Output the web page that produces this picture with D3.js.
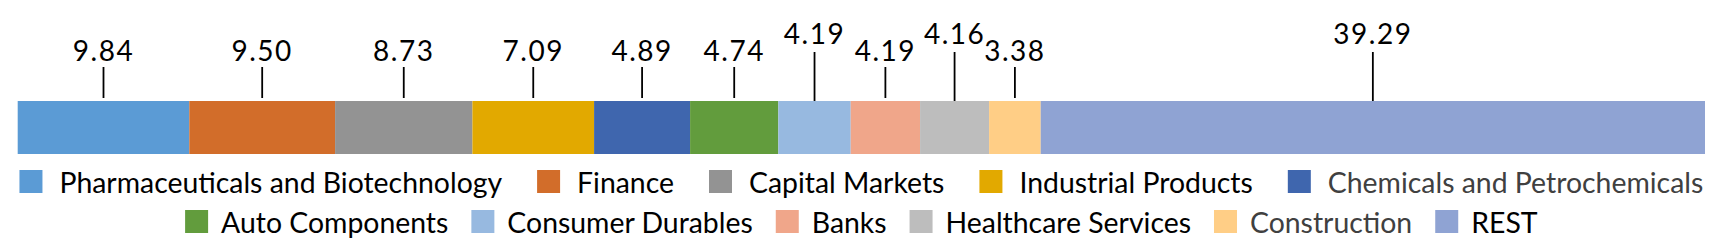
<!DOCTYPE html>
<html>
<head>
<meta charset="utf-8">
<script src="https://cdn.jsdelivr.net/npm/d3@7"></script>
<style>
  html, body { margin: 0; padding: 0; background: #ffffff; }
  svg { display: block; }
  text { font-family: Lato, "Open Sans", sans-serif; }
</style>
</head>
<body>
<svg id="chart" width="1716" height="243"></svg>
<script>
// ---- data ----
const categories = [
  "Pharmaceuticals and Biotechnology", "Finance", "Capital Markets",
  "Industrial Products", "Chemicals and Petrochemicals", "Auto Components",
  "Consumer Durables", "Banks", "Healthcare Services", "Construction", "REST"
];
// value labels printed above the bar
const labelValues = [9.84, 9.50, 8.73, 7.09, 4.89, 4.74, 4.19, 4.19, 4.16, 3.38, 39.29];
// segment shares (%) as drawn in the bar
const segmentShares = [10.17, 8.64, 8.14, 7.21, 5.69, 5.23, 4.29, 4.11, 4.09, 3.06, 39.37];
const colors = ["#5B9BD5", "#D26D2A", "#939393", "#E2A900", "#3F66AE", "#629C3D",
                "#97B9E0", "#F0A68A", "#BDBDBD", "#FFCE86", "#8FA3D3"];
const labelRaised = [0, 0, 0, 0, 0, 0, 1, 0, 1, 0, 1];
const legendTextColors = ["#000", "#000", "#000", "#000", "#404040", "#000",
                          "#000", "#000", "#000", "#404040", "#000"];
const legendRowCounts = [5, 6];

// ---- layout ----
const W = 1716, H = 243;
const barLeft = 17.7, barRight = 1705, barTop = 101, barBottom = 154;
const svg = d3.select("#chart");

const total = d3.sum(segmentShares);
const x = d3.scaleLinear().domain([0, total]).range([barLeft, barRight]);

const cum = d3.cumsum(segmentShares);
const segs = segmentShares.map((v, i) => ({
  i, v, x0: cum[i] - v, x1: cum[i], label: labelValues[i], raised: labelRaised[i]
}));

// bar segments
svg.append("g").selectAll("rect").data(segs).join("rect")
  .attr("x", d => x(d.x0))
  .attr("y", barTop)
  .attr("width", d => x(d.x1) - x(d.x0))
  .attr("height", barBottom - barTop)
  .attr("fill", d => colors[d.i]);

// leader ticks
svg.append("g").selectAll("line").data(segs).join("line")
  .attr("x1", d => x((d.x0 + d.x1) / 2))
  .attr("x2", d => x((d.x0 + d.x1) / 2))
  .attr("y1", d => d.raised ? 52 : 67)
  .attr("y2", d => d.raised ? 101 : 98)
  .attr("stroke", "#000")
  .attr("stroke-width", 1.8);

// value labels
svg.append("g").selectAll("text").data(segs).join("text")
  .attr("x", d => x((d.x0 + d.x1) / 2))
  .attr("y", d => d.raised ? 44.3 : 60.7)
  .attr("text-anchor", "middle")
  .attr("font-size", 28)
  .attr("letter-spacing", 1.5)
  .attr("fill", "#000")
  .text(d => d3.format(".2f")(d.label));

// legend (centered rows)
const sw = 23, legendFont = 28.4;
const swGaps = [17, 13], itemGaps = [35, 23];
const legendG = svg.append("g");
const meas = legendG.append("text").attr("font-size", legendFont);
const widths = categories.map(c => { meas.text(c); return meas.node().getComputedTextLength(); });
meas.remove();
const rows = [];
let start = 0;
legendRowCounts.forEach(n => { rows.push(d3.range(start, start + n)); start += n; });
const rowTops = [170, 210];
const center = (barLeft + barRight) / 2;
rows.forEach((r, ri) => {
  const g1 = swGaps[ri], g2 = itemGaps[ri];
  const tw = d3.sum(r, i => sw + g1 + widths[i]) + g2 * (r.length - 1);
  let cx = center - tw / 2;
  r.forEach(i => {
    legendG.append("rect").attr("x", cx).attr("y", rowTops[ri])
      .attr("width", sw).attr("height", sw).attr("fill", colors[i]);
    legendG.append("text").attr("x", cx + sw + g1).attr("y", rowTops[ri] + 22.5)
      .attr("font-size", legendFont).attr("fill", legendTextColors[i])
      .text(categories[i]);
    cx += sw + g1 + widths[i] + g2;
  });
});
</script>
</body>
</html>
